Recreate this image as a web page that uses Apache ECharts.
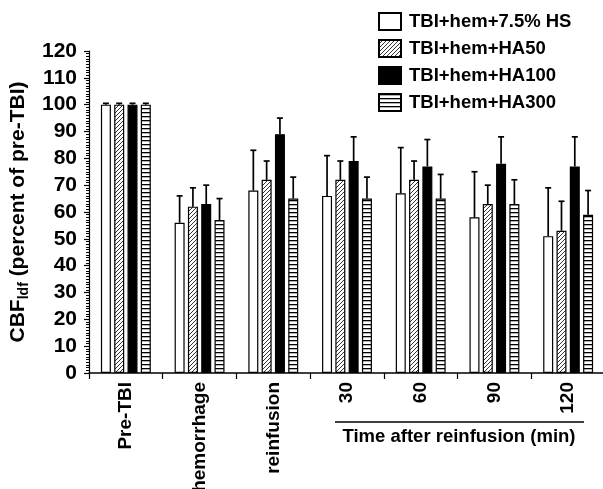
<!DOCTYPE html>
<html>
<head>
<meta charset="utf-8">
<script src="https://cdn.jsdelivr.net/npm/echarts@6/dist/echarts.min.js"></script>
<style>
  html, body {margin: 0; padding: 0; background: #fff;}
  #chart {width: 603px; height: 489px;}
</style>
</head>
<body>
<div id="chart"></div>
<script>
const categories = ['Pre-TBI', 'hemorrhage', 'reinfusion', '30', '60', '90', '120'];
const seriesNames = ['TBI+hem+7.5% HS', 'TBI+hem+HA50', 'TBI+hem+HA100', 'TBI+hem+HA300'];
const hs75 = [100, 56, 68, 66, 67, 58, 51];
const hs75Sd = [0.5, 10, 15, 15, 17, 17, 18];
const ha50 = [100, 62, 72, 72, 72, 63, 53];
const ha50Sd = [0.5, 7, 7, 7, 7, 7, 11];
const ha100 = [100, 63, 89, 79, 77, 78, 77];
const ha100Sd = [0.5, 7, 6, 9, 10, 10, 11];
const ha300 = [100, 57, 65, 65, 65, 63, 59];
const ha300Sd = [0.5, 8, 8, 8, 9, 9, 9];
const yTicks = {min: 0, max: 120, interval: 10};

const font = 'Liberation Sans, Arial, Helvetica, sans-serif';
const barWidth = 10;
const barStep = 13.3;

// fill patterns
const hatch = (() => {
  const c = document.createElement('canvas');
  c.width = 4; c.height = 4;
  const ctx = c.getContext('2d');
  ctx.fillStyle = '#fff';
  ctx.fillRect(0, 0, 4, 4);
  ctx.strokeStyle = '#333';
  ctx.lineWidth = 1;
  ctx.beginPath();
  ctx.moveTo(0, 4); ctx.lineTo(4, 0);
  ctx.moveTo(-1, 1); ctx.lineTo(1, -1);
  ctx.moveTo(3, 5); ctx.lineTo(5, 3);
  ctx.stroke();
  return c;
})();
const stripes = (() => {
  const c = document.createElement('canvas');
  c.width = 4; c.height = 4;
  const ctx = c.getContext('2d');
  ctx.fillStyle = '#fff';
  ctx.fillRect(0, 0, 4, 4);
  ctx.fillStyle = '#000';
  ctx.fillRect(0, 0, 4, 1.3);
  return c;
})();

const fills = [
  '#fff',
  {image: hatch, repeat: 'repeat'},
  '#000',
  {image: stripes, repeat: 'repeat'}
];
const means = [hs75, ha50, ha100, ha300];
const sds = [hs75Sd, ha50Sd, ha100Sd, ha300Sd];

const myChart = echarts.init(document.getElementById('chart'));

const barSeries = means.map((vals, i) => ({
  name: seriesNames[i],
  type: 'bar',
  data: vals,
  barWidth: barWidth,
  barGap: '33%',
  itemStyle: {color: fills[i], borderColor: '#000', borderWidth: 1.2},
  z: 2
}));

const errSeries = means.map((vals, i) => ({
  type: 'custom',
  data: vals.map((v, k) => [k, v, sds[i][k]]),
  z: 3,
  silent: true,
  renderItem(params, api) {
    const k = api.value(0);
    const base = api.coord([k, api.value(1)]);
    const top = api.coord([k, api.value(1) + api.value(2)]);
    const x = base[0] + (i - 1.5) * barStep;
    const style = {stroke: '#000', lineWidth: 1.7};
    return {
      type: 'group',
      children: [
        {type: 'line', shape: {x1: x, y1: base[1], x2: x, y2: top[1]}, style},
        {type: 'line', shape: {x1: x - 3, y1: top[1], x2: x + 3, y2: top[1]}, style}
      ]
    };
  }
}));

myChart.setOption({
  animation: false,
  textStyle: {fontFamily: font, color: '#000'},
  grid: {left: 89, right: -2, top: 51, bottom: 116, outerBoundsMode: 'none', containLabel: false},
  legend: {
    orient: 'vertical',
    left: 378,
    top: 12,
    padding: 0,
    itemWidth: 22,
    itemHeight: 17,
    itemGap: 8,
    icon: 'rect',
    data: seriesNames,
    textStyle: {fontFamily: font, fontWeight: 'bold', fontSize: 18.5, color: '#000', padding: [0, 0, 0, 3]}
  },
  xAxis: {
    type: 'category',
    data: categories,
    axisLine: {lineStyle: {color: '#000', width: 1.5}},
    axisTick: {show: true, length: 6, lineStyle: {color: '#000', width: 1.2}},
    axisLabel: {
      rotate: 90,
      margin: 9,
      interval: 0,
      fontFamily: font,
      fontWeight: 'bold',
      fontSize: 19,
      color: '#000'
    }
  },
  yAxis: {
    type: 'value',
    min: yTicks.min,
    max: yTicks.max,
    interval: yTicks.interval,
    name: '{a|CBF}{b|ldf}{a| (percent of pre-TBI)}',
    nameLocation: 'middle',
    nameGap: 50,
    nameTextStyle: {
      rich: {
        a: {fontFamily: font, fontWeight: 'bold', fontSize: 21, color: '#000', lineHeight: 25},
        b: {fontFamily: font, fontWeight: 'bold', fontSize: 14, color: '#000', lineHeight: 14, verticalAlign: 'bottom'}
      }
    },
    axisLine: {show: true, lineStyle: {color: '#000', width: 1.2}},
    axisTick: {show: true, length: 5, lineStyle: {color: '#000', width: 1.2}},
    minorTick: {show: true, splitNumber: 10, length: 3, lineStyle: {color: '#000', width: 1}},
    splitLine: {show: false},
    axisLabel: {
      margin: 12,
      fontFamily: font,
      fontWeight: 'bold',
      fontSize: 21,
      color: '#000'
    }
  },
  graphic: [
    {type: 'line', shape: {x1: 335, y1: 422, x2: 584, y2: 422}, style: {stroke: '#000', lineWidth: 1.5}},
    {
      type: 'text',
      x: 459,
      y: 437,
      style: {
        text: 'Time after reinfusion (min)',
        font: 'bold 18.5px ' + font,
        fill: '#000',
        align: 'center',
        verticalAlign: 'middle'
      }
    }
  ],
  series: barSeries.concat(errSeries)
});
</script>
</body>
</html>
